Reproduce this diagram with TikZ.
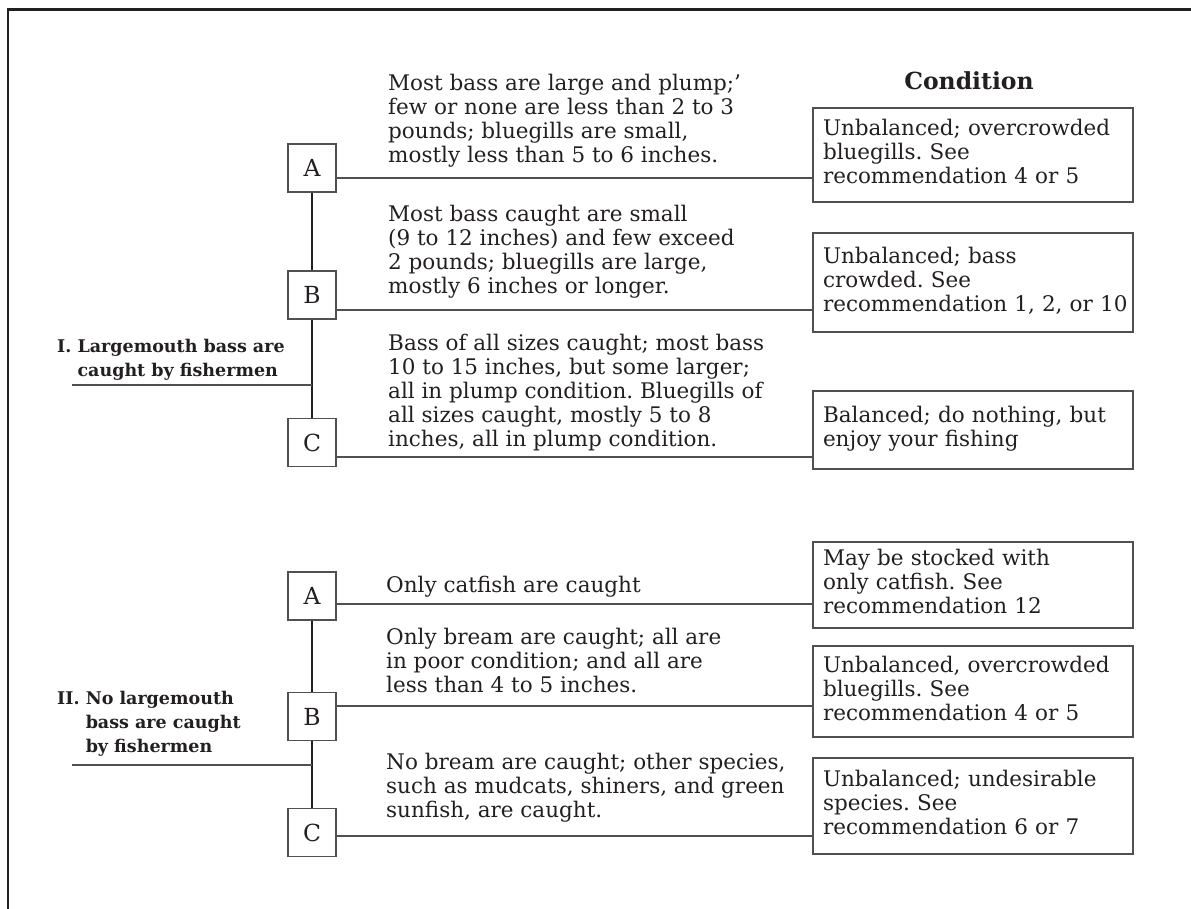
\documentclass[tikz,border=0pt]{standalone}
\usepackage{fontspec}
\setmainfont{DejaVu Serif}
\usepackage{tikz}
\definecolor{Ink}{HTML}{231F20}
\definecolor{RuleGray}{HTML}{505050}
\newcommand{\cellrows}[1]{\begin{tabular}{@{}l@{}}#1\end{tabular}}
\frenchspacing

\begin{document}
\begin{tikzpicture}[x=1pt, y=-1pt,
    letter/.style={draw=RuleGray, line width=1.3pt, minimum size=48pt, inner sep=0pt, text=Ink, font=\fontsize{23.5}{24}\selectfont},
    desc/.style={anchor=north west, align=left, inner sep=0pt, text=Ink, font=\fontsize{21.5}{24}\selectfont},
    cond/.style={draw=RuleGray, line width=1.3pt, text width=300pt, inner xsep=10pt, inner ysep=0pt, align=left, text=Ink, font=\fontsize{21.5}{24}\selectfont},
    grouplab/.style={anchor=north west, inner sep=0pt, text=Ink, font=\bfseries\fontsize{17.5}{24}\selectfont},
    bar/.style={Ink, line width=2.2pt},
    wire/.style={RuleGray, line width=1.3pt},
    pageframe/.style={Ink, line width=2.7pt}]
  \useasboundingbox (0,0) rectangle (1191,909);
  \draw[pageframe] (8,909) -- (8,9.5) -- (1191,9.5);

  \node[font=\bfseries\fontsize{23.5}{24}\selectfont, text=Ink, anchor=base] (head) at (969,89.3) {Condition};

  \node[letter] (IA) at (312,168) {A};
  \node[letter] (IB) at (312,295) {B};
  \node[letter] (IC) at (312,442.5) {C};
  \draw[bar] (IA) -- (IB) -- (IC);

  \node[desc] (IdA) at (388,73.7) {Most bass are large and plump;'\\few or none are less than 2 to 3\\pounds; bluegills are small,\\mostly less than 5 to 6 inches.};
  \node[desc] (IdB) at (388,204.7) {Most bass caught are small\\(9 to 12 inches) and few exceed\\2 pounds; bluegills are large,\\mostly 6 inches or longer.};
  \node[desc] (IdC) at (388,333.7) {Bass of all sizes caught; most bass\\10 to 15 inches, but some larger;\\all in plump condition. Bluegills of\\all sizes caught, mostly 5 to 8\\inches, all in plump condition.};

  \node[cond, minimum height=94pt] (IcA) at (973,155) {\cellrows{Unbalanced; overcrowded\\bluegills. See\\recommendation 4 or 5}};
  \node[cond, minimum height=99pt] (IcB) at (973,282.5) {\cellrows{Unbalanced; bass\\crowded. See\\recommendation 1, 2, or 10}};
  \node[cond, minimum height=78pt] (IcC) at (973,430) {\cellrows{Balanced; do nothing, but\\enjoy your fishing}};

  \coordinate (Ia) at (0,178);
  \coordinate (Ib) at (0,310);
  \coordinate (Ic) at (0,457);
  \draw[wire] (IA.east |- Ia) -- (IcA.west |- Ia);
  \draw[wire] (IB.east |- Ib) -- (IcB.west |- Ib);
  \draw[wire] (IC.east |- Ic) -- (IcC.west |- Ic);

  \node[grouplab] (Ilab) at (57,335) {\begin{tabular}{@{}l@{ }l@{}}I. & Largemouth bass are\\ & caught by fishermen\end{tabular}};
  \coordinate (Iroot) at (72,385);
  \draw[wire] (Iroot) -- (Iroot -| IA.center);

  \node[letter] (IIA) at (312,596) {A};
  \node[letter] (IIB) at (312,716.5) {B};
  \node[letter] (IIC) at (312,832.5) {C};
  \draw[bar] (IIA) -- (IIB) -- (IIC);

  \node[desc] (IIdA) at (386,575.7) {Only catfish are caught};
  \node[desc] (IIdB) at (386,628) {Only bream are caught; all are\\in poor condition; and all are\\less than 4 to 5 inches.};
  \node[desc] (IIdC) at (386,753) {No bream are caught; other species,\\such as mudcats, shiners, and green\\sunfish, are caught.};

  \node[cond, minimum height=86pt] (IIcA) at (973,585) {\cellrows{May be stocked with\\only catfish. See\\recommendation 12}};
  \node[cond, minimum height=91pt] (IIcB) at (973,691.5) {\cellrows{Unbalanced, overcrowded\\bluegills. See\\recommendation 4 or 5}};
  \node[cond, minimum height=96pt] (IIcC) at (973,806) {\cellrows{Unbalanced; undesirable\\species. See\\recommendation 6 or 7}};

  \coordinate (IIa) at (0,604);
  \coordinate (IIb) at (0,706);
  \coordinate (IIc) at (0,836);
  \draw[wire] (IIA.east |- IIa) -- (IIcA.west |- IIa);
  \draw[wire] (IIB.east |- IIb) -- (IIcB.west |- IIb);
  \draw[wire] (IIC.east |- IIc) -- (IIcC.west |- IIc);

  \node[grouplab] (IIlab) at (57,687) {\begin{tabular}{@{}l@{ }l@{}}II. & No largemouth\\ & bass are caught\\ & by fishermen\end{tabular}};
  \coordinate (IIroot) at (72,765);
  \draw[wire] (IIroot) -- (IIroot -| IIA.center);
\end{tikzpicture}
\end{document}
